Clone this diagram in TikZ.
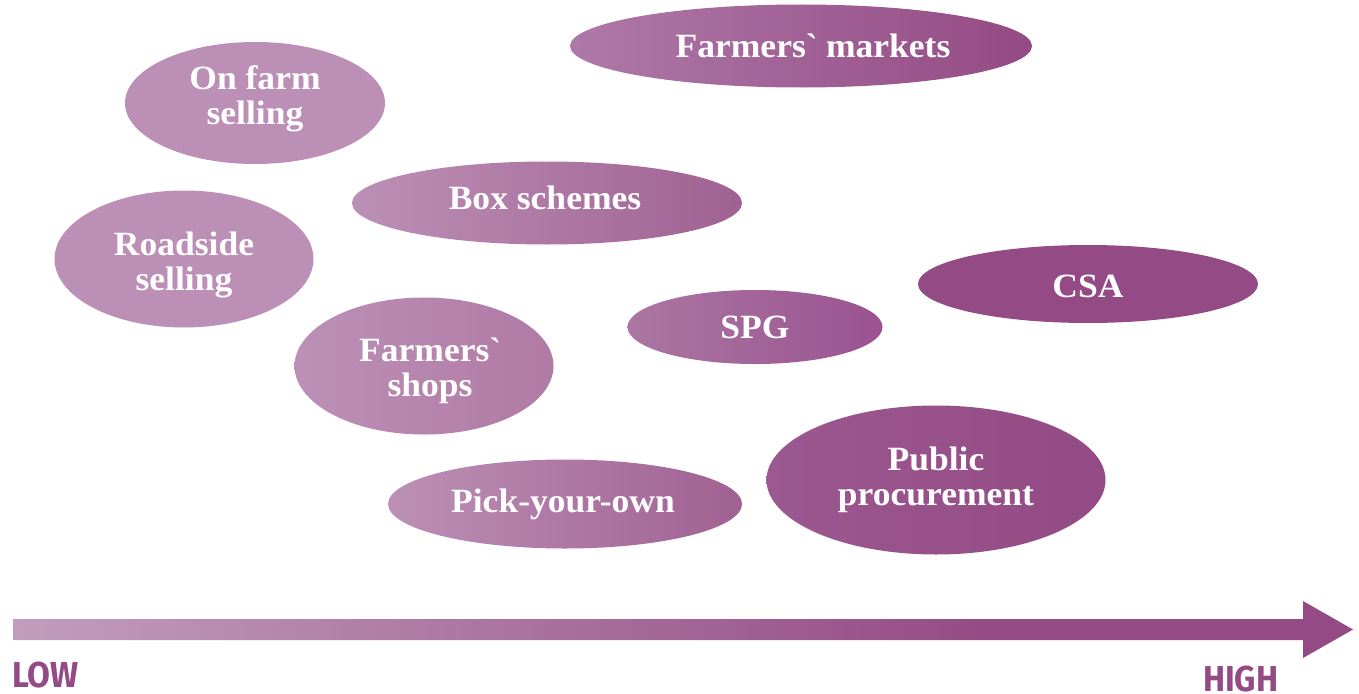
\documentclass[tikz,border=0pt]{standalone}
\usepackage{fontspec}
\setmainfont{Liberation Serif}
\newfontfamily\blobfont[FakeStretch=1.045]{Liberation Serif}
\newfontfamily\axisfont[FakeStretch=0.92]{Fira Sans}
\usetikzlibrary{shapes.geometric}
\definecolor{pL}{HTML}{BC90B6}
\definecolor{pD}{HTML}{944A84}
\definecolor{arL}{HTML}{C19DBD}
\definecolor{cBoxR}{HTML}{A06192}
\definecolor{cShopR}{HTML}{B07AA5}
\definecolor{cSpgL}{HTML}{AB76A2}
\definecolor{cSpgR}{HTML}{9A5390}
\definecolor{cMktL}{HTML}{AE79A8}
\definecolor{cPubL}{HTML}{9C5890}
\pgfdeclarehorizontalshading{arrowshade}{100bp}{color(0bp)=(arL); color(25bp)=(arL); color(62bp)=(pD); color(100bp)=(pD)}
\tikzset{
  blob/.style={ellipse, inner sep=0pt, draw=none},
  blobtext/.style={inner sep=0pt, text=white, align=center,
    font=\blobfont\bfseries\fontsize{34}{35}\selectfont},
  axislabel/.style={inner sep=0pt, text=pD, anchor=base west,
    font=\axisfont\bfseries\fontsize{36}{36}\selectfont}
}
\begin{document}
\begin{tikzpicture}[x=1pt,y=-1pt]
\useasboundingbox (0,0) rectangle (1359,693);
% ellipses
\node[blob, fill=pL, minimum width=260pt, minimum height=122pt] (onfarm) at (255,103) {};
\node[blob, left color=cMktL, right color=pD, minimum width=462pt, minimum height=83pt] (markets) at (801,46) {};
\node[blob, left color=pL, right color=cBoxR, minimum width=390pt, minimum height=83pt] (box) at (547,203) {};
\node[blob, fill=pL, minimum width=259pt, minimum height=137pt] (roadside) at (184,259) {};
\node[blob, fill=pD, minimum width=340pt, minimum height=78pt] (csa) at (1088,284) {};
\node[blob, left color=cSpgL, right color=cSpgR, minimum width=255pt, minimum height=74pt] (spg) at (755,327) {};
\node[blob, left color=pL, right color=cShopR, minimum width=259pt, minimum height=137pt] (shops) at (424,366) {};
\node[blob, left color=pL, right color=cBoxR, minimum width=354pt, minimum height=89pt] (pick) at (565,504) {};
\node[blob, left color=cPubL, right color=pD, minimum width=339pt, minimum height=149pt] (public) at (936,480) {};
% labels
\node[blobtext] (onfarmtext) at ([yshift=4pt]onfarm.center) {On farm\\selling};
\node[blobtext] (marketstext) at ([xshift=12pt]markets.center) {Farmers\textasciigrave{} markets};
\node[blobtext] (boxtext) at ([xshift=-2pt,yshift=5pt]box.center) {Box schemes};
\node[blobtext] (roadsidetext) at ([yshift=-6pt]roadside.center) {Roadside\\selling};
\node[blobtext] (csatext) at ([yshift=-2pt]csa.center) {CSA};
\node[blobtext] (spgtext) at (spg.center) {SPG};
\node[blobtext] (shopstext) at ([xshift=6pt,yshift=-5pt]shops.center) {Farmers\textasciigrave\\shops};
\node[blobtext] (picktext) at ([xshift=-2pt]pick.center) {Pick-your-own};
\node[blobtext] (publictext) at (public.center) {Public\\procurement};
% axis arrow
\coordinate (arrowstart) at (13,629.5);
\coordinate (arrowtip) at (1353,629.5);
\path[shading=arrowshade] (arrowstart) ++(0,-10.5) -- (1303,619) -- (1303,601) -- (arrowtip) -- (1303,658) -- (1303,640) -- (13,640) -- cycle;
\node[axislabel] (low) at (12,687) {LOW};
\node[axislabel] (high) at (1203,691) {HIGH};
\end{tikzpicture}
\end{document}
